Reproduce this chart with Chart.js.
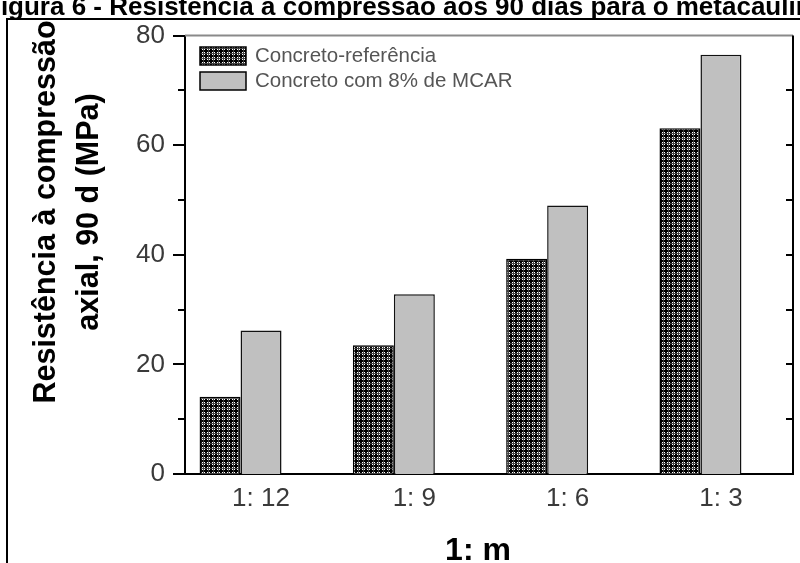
<!DOCTYPE html>
<html>
<head>
<meta charset="utf-8">
<script src="https://cdn.jsdelivr.net/npm/chart.js@4.4.1/dist/chart.umd.min.js"></script>
<style>
  html, body { margin: 0; padding: 0; background: #fff; }
  #wrap { width: 800px; height: 563px; }
</style>
</head>
<body>
<div id="wrap"><canvas id="chart" width="800" height="563"></canvas></div>
<script>
// values (MPa)
const categories = ['1: 12', '1: 9', '1: 6', '1: 3'];
const refValues = [14.1, 23.5, 39.3, 63.1];
const mcarValues = [26.2, 32.8, 49.0, 76.5];
const seriesLabels = ['Concreto-referência', 'Concreto com 8% de MCAR'];
const yTicks = [0, 10, 20, 30, 40, 50, 60, 70, 80];
const figTitle = 'Figura 6 - Resistência à compressão aos 90 dias para o metacaulim';
const yTitle = ['Resistência à compressão', 'axial, 90 d (MPa)'];
const xTitle = '1: m';

const FONT = '"Liberation Sans", Arial, sans-serif';
const canvas = document.getElementById('chart');
const ctx = canvas.getContext('2d');

// dense crosshatch fill used for the reference concrete bars
function makeHatch() {
  const tile = document.createElement('canvas');
  tile.width = 5;
  tile.height = 5;
  const g = tile.getContext('2d');
  g.fillStyle = '#fff';
  g.fillRect(0, 0, 5, 5);
  g.fillStyle = '#000';
  g.fillRect(0, 0, 5, 2);
  g.fillRect(0, 0, 2, 5);
  g.fillStyle = '#444';
  g.fillRect(0, 3, 5, 1);
  g.fillRect(3, 0, 1, 5);
  return ctx.createPattern(tile, 'repeat');
}
const hatch = makeHatch();

const toPoints = (vals) => vals.map((v, i) => ({ x: i + 1, y: v }));

// draws frame, mirrored axes, ticks, titles and the inset legend
const decorPlugin = {
  id: 'decor',
  afterDraw(chart) {
    const c = chart.ctx;
    const a = chart.chartArea;
    const y = chart.scales.y;
    c.save();

    // outer frame of the figure
    c.strokeStyle = '#000';
    c.lineWidth = 2;
    c.beginPath();
    c.moveTo(7, 563);
    c.lineTo(7, 19);
    c.lineTo(800, 19);
    c.stroke();

    // top and right plot borders
    c.strokeStyle = '#8a8a8a';
    c.beginPath();
    c.moveTo(a.left, a.top);
    c.lineTo(a.right, a.top);
    c.stroke();
    c.strokeStyle = '#000';
    c.beginPath();
    c.moveTo(a.right, a.top);
    c.lineTo(a.right, a.bottom + 1);
    c.stroke();

    // ticks: outward on the left, inward on the right
    c.lineWidth = 2;
    yTicks.forEach(v => {
      const py = Math.round(y.getPixelForValue(v));
      const len = v % 20 === 0 ? 12 : 7;
      c.beginPath();
      c.moveTo(a.left - len, py);
      c.lineTo(a.left, py);
      if (v > 0 && v < 80) {
        c.moveTo(a.right - 7, py);
        c.lineTo(a.right, py);
      }
      c.stroke();
    });

    // figure caption, cut off by the top edge
    c.fillStyle = '#000';
    c.textAlign = 'left';
    c.textBaseline = 'alphabetic';
    c.font = 'bold 26px ' + FONT;
    c.fillText(figTitle, -15, 15);

    // axis titles
    c.font = 'bold 30.5px ' + FONT;
    c.textAlign = 'center';
    [[55, yTitle[0]], [98, yTitle[1]]].forEach(([bx, txt]) => {
      c.save();
      c.translate(bx, 212);
      c.rotate(-Math.PI / 2);
      c.fillText(txt, 0, 0);
      c.restore();
    });
    c.font = 'bold 32px ' + FONT;
    c.fillText(xTitle, 478, 560);

    // legend inside the plot, top left
    c.textAlign = 'left';
    c.textBaseline = 'middle';
    c.font = '20.5px ' + FONT;
    seriesLabels.forEach((label, i) => {
      const ds = chart.data.datasets[i];
      const top = 47 + i * 25;
      c.fillStyle = ds.backgroundColor;
      c.fillRect(200, top, 46, 18);
      c.strokeStyle = '#000';
      c.lineWidth = 1.5;
      c.strokeRect(200, top, 46, 18);
      c.fillStyle = '#555';
      c.fillText(label, 255, top + 9);
    });

    c.restore();
  }
};

new Chart(canvas, {
  type: 'bar',
  data: {
    datasets: [
      {
        label: seriesLabels[0],
        data: toPoints(refValues),
        backgroundColor: hatch,
        borderColor: '#000',
        borderWidth: 1.5
      },
      {
        label: seriesLabels[1],
        data: toPoints(mcarValues),
        backgroundColor: '#c0c0c0',
        borderColor: '#111',
        borderWidth: 1.5
      },
      {
        // Origin leaves an empty third slot to the right of each pair
        label: '',
        data: categories.map((_, i) => ({ x: i + 1, y: null })),
        backgroundColor: 'transparent'
      }
    ]
  },
  options: {
    responsive: false,
    animation: false,
    devicePixelRatio: 1,
    categoryPercentage: 0.802,
    barPercentage: 1.0,
    layout: { padding: { top: 33, right: 7, left: 0, bottom: 0 } },
    plugins: {
      legend: { display: false },
      title: { display: false },
      tooltip: { enabled: false }
    },
    scales: {
      x: {
        type: 'linear',
        offset: false,
        min: 0.504,
        max: 4.47,
        grid: { display: false, drawTicks: false, offset: false },
        border: { display: true, color: '#000', width: 2 },
        afterBuildTicks: (s) => { s.ticks = categories.map((_, i) => ({ value: i + 1 })); },
        afterFit: (s) => { s.height = 89; },
        ticks: {
          autoSkip: false,
          maxRotation: 0,
          padding: 9,
          color: '#3a3a3a',
          font: { family: FONT, size: 26 },
          callback: (v) => categories[v - 1]
        }
      },
      y: {
        min: 0,
        max: 80,
        grid: { display: false, drawTicks: false },
        border: { display: true, color: '#000', width: 2 },
        afterBuildTicks: (s) => { s.ticks = yTicks.map(v => ({ value: v })); },
        afterFit: (s) => { s.width = 185; },
        ticks: {
          padding: 20,
          color: '#3a3a3a',
          font: { family: FONT, size: 26 },
          callback: (v) => (v % 20 === 0 ? String(v) : '')
        }
      }
    }
  },
  plugins: [decorPlugin]
});
</script>
</body>
</html>
